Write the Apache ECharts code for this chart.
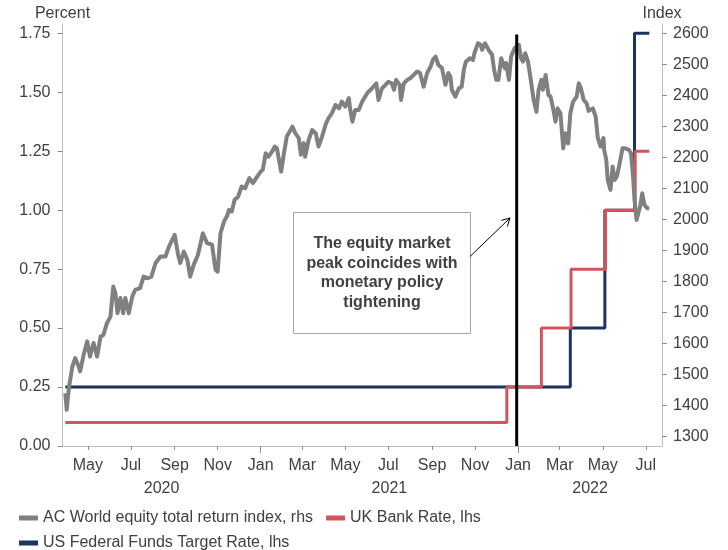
<!DOCTYPE html>
<html>
<head>
<meta charset="utf-8">
<script src="https://cdn.jsdelivr.net/npm/echarts@6/dist/echarts.min.js"></script>
<style>
  html, body { margin: 0; padding: 0; background: #ffffff; }
  #chart { width: 728px; height: 550px; }
</style>
</head>
<body>
<div id="chart"></div>
<script>
// AC World equity total return index (right axis)
const equityDates = [
  '2020-03-30','2020-04-01','2020-04-04','2020-04-09','2020-04-13','2020-04-18','2020-04-20','2020-04-25','2020-04-30',
  '2020-05-04','2020-05-09','2020-05-14','2020-05-19','2020-05-23','2020-05-28','2020-06-02','2020-06-06','2020-06-09',
  '2020-06-12','2020-06-16','2020-06-20','2020-06-23','2020-06-28','2020-07-03','2020-07-07','2020-07-14','2020-07-19',
  '2020-07-25','2020-07-30','2020-08-05','2020-08-12','2020-08-19','2020-08-24','2020-09-01','2020-09-06','2020-09-09',
  '2020-09-14','2020-09-19','2020-09-23','2020-09-28','2020-10-04','2020-10-11','2020-10-17','2020-10-24','2020-10-29',
  '2020-11-01','2020-11-05','2020-11-10','2020-11-14','2020-11-17','2020-11-21','2020-11-25','2020-11-30','2020-12-05',
  '2020-12-10','2020-12-16','2020-12-21','2020-12-27','2021-01-01','2021-01-04','2021-01-08','2021-01-12','2021-01-17',
  '2021-01-21','2021-01-24','2021-01-30','2021-02-03','2021-02-07','2021-02-15','2021-02-19','2021-02-24','2021-02-27',
  '2021-03-03','2021-03-05','2021-03-10','2021-03-15','2021-03-20','2021-03-24','2021-03-29','2021-04-03','2021-04-07',
  '2021-04-12','2021-04-17','2021-04-22','2021-04-26','2021-05-01','2021-05-06','2021-05-08','2021-05-11','2021-05-15',
  '2021-05-20','2021-05-25','2021-06-01','2021-06-08','2021-06-14','2021-06-17','2021-06-22','2021-06-27','2021-07-01',
  '2021-07-06','2021-07-09','2021-07-12','2021-07-17','2021-07-19','2021-07-23','2021-07-28','2021-08-01','2021-08-06',
  '2021-08-11','2021-08-15','2021-08-20','2021-08-25','2021-08-30','2021-09-02','2021-09-06','2021-09-10','2021-09-15',
  '2021-09-20','2021-09-24','2021-09-27','2021-09-29','2021-10-04','2021-10-09','2021-10-13','2021-10-16','2021-10-19',
  '2021-10-25','2021-10-29','2021-10-31','2021-11-05','2021-11-09','2021-11-11','2021-11-15','2021-11-20','2021-11-25',
  '2021-11-28','2021-12-01','2021-12-04','2021-12-08','2021-12-13','2021-12-15','2021-12-19','2021-12-22','2021-12-27',
  '2022-01-02','2022-01-05','2022-01-08','2022-01-11','2022-01-15','2022-01-19','2022-01-23','2022-01-27','2022-01-30',
  '2022-02-03','2022-02-05','2022-02-09','2022-02-13','2022-02-16','2022-02-20','2022-02-23','2022-02-26','2022-03-02',
  '2022-03-06','2022-03-09','2022-03-13','2022-03-16','2022-03-20','2022-03-25','2022-03-28','2022-03-31','2022-04-04',
  '2022-04-08','2022-04-11','2022-04-17','2022-04-21','2022-04-24','2022-04-28','2022-05-02','2022-05-03','2022-05-06',
  '2022-05-08','2022-05-12','2022-05-15','2022-05-18','2022-05-21','2022-05-25','2022-05-29','2022-06-02','2022-06-07',
  '2022-06-10','2022-06-13','2022-06-15','2022-06-18','2022-06-21','2022-06-23','2022-06-26','2022-06-29','2022-07-03',
  '2022-07-06'
];
const equityValues = [
  1439,1385,1455,1525,1552,1525,1509,1563,1606,
  1557,1601,1557,1622,1627,1665,1686,1783,1762,
  1697,1746,1697,1746,1697,1751,1772,1778,1815,
  1810,1815,1859,1880,1880,1912,1950,1885,1859,
  1896,1869,1815,1853,1885,1955,1923,1918,1837,
  1831,1955,1993,2009,2030,2025,2063,2073,2106,
  2100,2133,2117,2138,2154,2160,2213,2202,2218,
  2235,2229,2154,2213,2267,2299,2278,2262,2208,
  2246,2202,2256,2288,2278,2235,2267,2305,2326,
  2342,2369,2358,2380,2364,2391,2353,2315,2353,
  2353,2380,2407,2423,2439,2385,2423,2434,2444,
  2439,2418,2450,2434,2385,2439,2450,2455,2466,
  2477,2472,2428,2472,2493,2514,2525,2498,2488,
  2434,2472,2461,2418,2396,2423,2428,2482,2509,
  2520,2514,2536,2568,2563,2547,2568,2547,2531,
  2482,2450,2450,2520,2488,2504,2450,2525,2552,
  2563,2520,2509,2536,2509,2450,2385,2347,2418,
  2450,2418,2466,2401,2396,2353,2315,2358,2342,
  2229,2278,2245,2342,2380,2396,2439,2423,2385,
  2375,2350,2358,2331,2262,2235,2262,2224,2192,
  2127,2095,2170,2127,2138,2181,2229,2229,2224,
  2213,2138,2063,1998,2025,2041,2084,2047,2036,
  2036
];

// Policy rates (left axis), value holds from each date onward
const ukDates = ['2020-03-30','2021-12-16','2022-02-03','2022-03-17','2022-05-05','2022-06-16','2022-07-06'];
const ukRates = [0.10, 0.25, 0.50, 0.75, 1.00, 1.25, 1.25];
const usDates = ['2020-03-30','2022-03-16','2022-05-04','2022-06-15','2022-07-06'];
const usRates = [0.25, 0.50, 1.00, 1.75, 1.75];

const peakDate = '2021-12-30';
const peakLineTop = 1.745;

// Axis ticks and labels
const monthTickDates = ['2020-05-01','2020-07-01','2020-09-01','2020-11-01','2021-01-01','2021-03-01','2021-05-01',
  '2021-07-01','2021-09-01','2021-11-01','2022-01-01','2022-03-01','2022-05-01','2022-07-01'];
const monthTickLabels = ['May','Jul','Sep','Nov','Jan','Mar','May','Jul','Sep','Nov','Jan','Mar','May','Jul'];
const yearStartDates = ['2021-01-01','2022-01-01'];
const yearLabels = ['2020','2021','2022'];
const percentTicks = [0, 0.25, 0.5, 0.75, 1.0, 1.25, 1.5, 1.75];
const indexTicks = [1300,1400,1500,1600,1700,1800,1900,2000,2100,2200,2300,2400,2500,2600];

const ts = s => Date.parse(s + 'T00:00:00Z');
const xMin = ts('2020-03-26');
const xMax = ts('2022-07-24');

const zip = (ds, vs) => ds.map((d, i) => [ts(d), vs[i]]);

const yearTickTs = yearStartDates.map(ts);
const yearBounds = [xMin].concat(yearTickTs, [xMax]);
const yearMidTs = yearLabels.map((_, i) => (yearBounds[i] + yearBounds[i + 1]) / 2);
const monthTickTs = monthTickDates.map(ts);

const FONT = '"Liberation Sans", Arial, Helvetica, sans-serif';
const TEXT = '#404040';
const AXIS = '#bfbfbf';
const TICK = '#8c8c8c';
const GREY = '#808080';
const RED = '#d4545e';
const NAVY = '#1c355e';

const chart = echarts.init(document.getElementById('chart'), null, { renderer: 'canvas' });

const labelBase = { fontFamily: FONT, fontSize: 16, color: TEXT };

chart.setOption({
  animation: false,
  backgroundColor: '#ffffff',
  textStyle: { fontFamily: FONT },
  grid: { left: 62.5, right: 66, top: 24, bottom: 104 },
  legend: [
    {
      left: 19, top: 510, itemGap: 13, itemWidth: 19, itemHeight: 5, icon: 'rect',
      textStyle: Object.assign({}, labelBase), padding: 0,
      data: ['AC World equity total return index, rhs', 'UK Bank Rate, lhs']
    },
    {
      left: 19, top: 535, itemGap: 13, itemWidth: 19, itemHeight: 5, icon: 'rect',
      textStyle: Object.assign({}, labelBase), padding: 0,
      data: ['US Federal Funds Target Rate, lhs']
    }
  ],
  xAxis: [
    {
      type: 'value', min: xMin, max: xMax, position: 'bottom',
      axisLine: { show: true, lineStyle: { color: AXIS, width: 1 } },
      axisTick: { show: true, customValues: monthTickTs, length: 4, lineStyle: { color: TICK } },
      axisLabel: {
        customValues: monthTickTs, margin: 12, ...labelBase,
        formatter: v => monthTickLabels[monthTickTs.indexOf(v)] || ''
      },
      splitLine: { show: false }
    },
    {
      type: 'value', min: xMin, max: xMax, position: 'bottom',
      axisLine: { show: false },
      axisTick: { show: true, customValues: yearTickTs, length: 7, lineStyle: { color: TICK } },
      axisLabel: {
        customValues: yearMidTs, margin: 35, ...labelBase,
        formatter: v => yearLabels[yearMidTs.indexOf(v)] || ''
      },
      splitLine: { show: false }
    }
  ],
  yAxis: [
    {
      type: 'value', min: 0, max: 1.7894, position: 'left',
      name: 'Percent', nameLocation: 'end', nameGap: 2,
      nameTextStyle: Object.assign({}, labelBase),
      axisLine: { show: true, lineStyle: { color: AXIS, width: 1 } },
      axisTick: { show: true, customValues: percentTicks, length: 5, lineStyle: { color: TICK } },
      axisLabel: { customValues: percentTicks, margin: 12, ...labelBase, formatter: v => v.toFixed(2) },
      splitLine: { show: false }
    },
    {
      type: 'value', min: 1268.4, max: 2630.3, position: 'right',
      name: 'Index', nameLocation: 'end', nameGap: 2,
      nameTextStyle: Object.assign({}, labelBase),
      axisLine: { show: true, lineStyle: { color: AXIS, width: 1 } },
      axisTick: { show: true, customValues: indexTicks, length: 5, lineStyle: { color: TICK } },
      axisLabel: { customValues: indexTicks, margin: 11, ...labelBase, formatter: v => String(v) },
      splitLine: { show: false }
    }
  ],
  series: [
    {
      name: 'US Federal Funds Target Rate, lhs', type: 'line', step: 'end',
      xAxisIndex: 0, yAxisIndex: 0, showSymbol: false, silent: true,
      color: NAVY, lineStyle: { color: NAVY, width: 3 },
      data: zip(usDates, usRates), z: 2
    },
    {
      name: 'UK Bank Rate, lhs', type: 'line', step: 'end',
      xAxisIndex: 0, yAxisIndex: 0, showSymbol: false, silent: true,
      color: RED, lineStyle: { color: RED, width: 3 },
      data: zip(ukDates, ukRates), z: 3
    },
    {
      name: 'AC World equity total return index, rhs', type: 'line',
      xAxisIndex: 0, yAxisIndex: 1, showSymbol: false, silent: true,
      color: GREY, lineStyle: { color: GREY, width: 4, join: 'round' },
      data: zip(equityDates, equityValues), z: 4
    },
    {
      name: 'peak', type: 'line', xAxisIndex: 0, yAxisIndex: 0,
      showSymbol: false, silent: true,
      lineStyle: { color: '#000000', width: 3 },
      data: [[ts(peakDate), 0], [ts(peakDate), peakLineTop]], z: 5
    }
  ]
});

// Annotation: text box with an arrow pointing at the peak line
const box = { x: 293.5, y: 212.5, w: 177, h: 121 };
const arrowFrom = [470, 256.5];
const arrowTo = [510, 218];
const dx = arrowTo[0] - arrowFrom[0], dy = arrowTo[1] - arrowFrom[1];
const len = Math.hypot(dx, dy), ux = dx / len, uy = dy / len;
const headLen = 9, spread = 0.5;
const head = [
  [arrowTo[0] - headLen * (ux * Math.cos(spread) - uy * Math.sin(spread)),
   arrowTo[1] - headLen * (uy * Math.cos(spread) + ux * Math.sin(spread))],
  arrowTo,
  [arrowTo[0] - headLen * (ux * Math.cos(-spread) - uy * Math.sin(-spread)),
   arrowTo[1] - headLen * (uy * Math.cos(-spread) + ux * Math.sin(-spread))]
];

chart.setOption({
  graphic: [
    {
      type: 'rect', z: 10, silent: true,
      shape: { x: box.x, y: box.y, width: box.w, height: box.h },
      style: { fill: '#ffffff', stroke: '#a6a6a6', lineWidth: 1 }
    },
    {
      type: 'text', z: 11, silent: true,
      x: box.x + box.w / 2, y: box.y + box.h / 2,
      style: {
        text: 'The equity market\npeak coincides with\nmonetary policy\ntightening',
        font: 'bold 16px ' + FONT, fill: TEXT,
        align: 'center', verticalAlign: 'middle', lineHeight: 19.5
      }
    },
    {
      type: 'line', z: 11, silent: true,
      shape: { x1: arrowFrom[0], y1: arrowFrom[1], x2: arrowTo[0], y2: arrowTo[1] },
      style: { stroke: '#000000', lineWidth: 1 }
    },
    {
      type: 'polyline', z: 11, silent: true,
      shape: { points: head },
      style: { stroke: '#000000', lineWidth: 1, fill: null }
    }
  ]
});
</script>
</body>
</html>
